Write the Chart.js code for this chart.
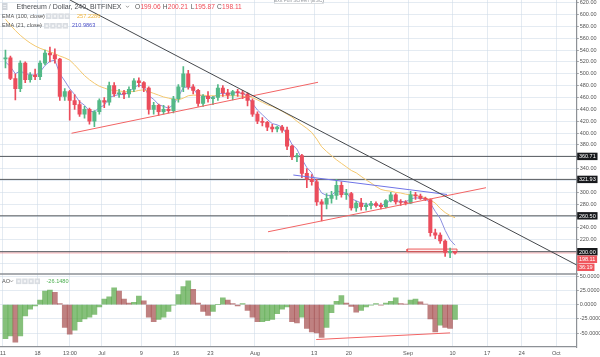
<!DOCTYPE html>
<html><head><meta charset="utf-8">
<script src="https://cdn.jsdelivr.net/npm/chart.js@4/dist/chart.umd.min.js"></script>
<style>html,body{margin:0;padding:0;background:#fff;overflow:hidden}canvas{display:block}</style>
</head><body>
<canvas id="c" width="600" height="357"></canvas>
<script>
// ---- data (one daily candle per entry, day 0 = 11 Jun) ----
const opens  = [525,527,492,475,518,490,498,495,518,535,532,525,462,470,455,448,432,440,420,436,455,452,480,466,468,466,474,488,485,476,440,447,436,440,438,458,478,500,478,472,450,462,458,460,476,468,464,470,468,466,455,432,420,418,410,407,410,405,378,360,362,332,322,318,284,280,290,295,312,296,298,274,282,276,278,281,278,276,286,296,284,283,282,296,294,290,288,232,228,218,199,199.06];
const highs  = [540,530,500,522,520,502,508,522,540,545,542,526,475,472,465,455,445,442,438,458,460,486,485,474,472,478,492,493,487,478,452,449,447,446,462,482,512,506,482,474,465,470,462,482,480,474,472,474,472,468,458,436,426,420,415,412,413,410,380,366,364,340,330,322,288,298,302,322,318,305,300,285,290,282,285,284,282,288,300,298,288,286,302,300,297,292,289,238,232,220,206,200.21];
const lows   = [510,490,456,470,485,486,490,490,515,520,518,455,455,422,440,428,425,415,411,432,443,447,462,460,458,460,470,478,470,432,432,430,432,434,434,452,470,474,466,445,445,452,448,455,462,458,456,462,458,446,428,416,412,404,402,402,401,372,355,352,325,308,312,278,252,272,282,288,292,288,270,268,270,270,272,275,272,274,284,280,278,279,281,288,288,286,226,222,214,192,190,195.87];
const closes = [527,492,475,518,490,498,495,518,535,532,525,462,470,455,448,432,440,420,436,455,452,480,466,468,466,474,488,485,476,440,447,436,440,438,458,478,500,478,472,450,462,458,460,476,468,464,470,468,466,455,432,420,418,410,407,410,405,378,360,362,332,322,318,284,280,290,295,312,296,298,274,282,276,278,281,278,276,286,296,284,283,282,296,294,290,288,232,228,218,199,199.06,198.11];
const ema100 = [592,582,573,565,558,552,547,543,540,537,534,530,527,523,515,506,497,490,484,479,476,473,472,471,470,470,470,472,473,470,467,464,461,459,457,456,459,463,464,464,464,463,463,463,463,463,463,463,462,462,460,456,452,448,445,441,437,432,427,420,414,408,401,390,377,369,362,355,349,343,337,333,327,321,316,310,305,303,302,300,299,297,296,295,293,291,287,282,273,266,261,257.23];
const ema21  = [520,512,500,505,500,499,497,503,514,521,523,500,488,475,465,453,447,437,436,443,447,460,463,465,465,469,477,481,479,463,457,448,445,442,448,461,477,478,475,464,463,461,460,466,467,466,468,468,467,462,450,439,431,423,416,414,410,397,381,373,356,342,333,313,299,295,295,303,300,299,289,286,282,280,280,279,278,281,287,286,285,284,289,291,290,289,282,268,256,236,220,210.99];
const aoValues = [-60,-55,-66,-55,-20,-8,-2,8,24,26,22,2,-40,-52,-45,-30,-25,-22,-17,-4,10,14,30,24,10,3,4,15,7,-22,-30,-26,-22,-12,-1,18,32,42,27,3,-12,-19,-12,0,12,8,2,-2,2,-10,-22,-30,-30,-28,-26,-16,-8,-4,-30,-32,-22,-42,-48,-50,-58,-40,-14,6,16,3,-3,-13,-10,-4,-1,2,-1,3,6,12,2,1,8,10,5,1,-25,-48,-36,-40,-42,-26.148];

const xTickDays   = [0,7,13.55,20,28,35,42,51,63,70,82,91,98,105,112];
const xTickLabels = ['11','18','13:00','Jul','9','16','23','Aug','13','20','Sep','10','17','24','Oct'];
const priceTicks  = [180,200,220,240,260,280,300,320,340,360,380,400,420,440,460,480,500,520,540,560,580,600,620];
const aoTicks     = [50,25,0,-25,-50];
const levels      = [360.71,321.93,260.50,200.00];
const lastPrice   = 198.11;
const countdown   = '36:19';
// drawn trend lines: [day, value]
const blackTrend = [[13.56,624.4],[116.13,177.6]];
const redTrendA  = [[13.87,399.7],[63.77,485.7]];
const redTrendB  = [[53.64,233.6],[97.77,307.9]];
const blueTrend  = [[58.77,329.3],[89.88,296.5]];
const aoTrend    = [[63.4,-61.5],[90.5,-49.8]];
const boxDays    = [81.8,91.9];
const boxPrices  = [200,204.5];
const title = 'Ethereum / Dollar, 240, BITFINEX';
const ohlc = [['O','199.06'],['H','200.21'],['L','195.87'],['C','198.11']];
const emaLegend = [['EMA (100, close)','257.2286'],['EMA (21, close)','210.9863']];
const aoLegend = ['AO','-26.1480'];

// ---- chart ----
const FONT = '"Liberation Sans", Arial, sans-serif';
Chart.defaults.font.family = FONT;
const xMin = -0.607, xMax = 116.13;
const upC = '#53b987', dnC = '#eb4d5c';
const idx = closes.map((_, i) => i);
const cCol = idx.map(i => closes[i] >= opens[i] ? upC : dnC);
const aoCol = aoValues.map((v, i) => (i === 0 || v >= aoValues[i-1]) ? 'rgba(88,168,72,0.72)' : 'rgba(160,70,70,0.68)');
const gridC = 'rgba(205,218,232,0.55)';
const axisC = '#8d9196';
const pts = a => a.map(p => ({x: p[0], y: p[1]}));
const line = (data, color, width, order, axis) => ({type:'line', data, borderColor: color, borderWidth: width, pointRadius: 0, fill: false, tension: 0, order, yAxisID: axis || 'y'});

const datasets = [
  ...levels.map(l => line([{x:xMin,y:l},{x:xMax,y:l}], '#55595e', 1, 9)),
  line([{x:xMin,y:lastPrice},{x:xMax,y:lastPrice}], 'rgba(240,80,90,0.28)', 2, 9),
  {type:'line', data:[{x:boxDays[0],y:boxPrices[0]},{x:boxDays[1],y:boxPrices[0]},{x:boxDays[1],y:boxPrices[1]},{x:boxDays[0],y:boxPrices[1]},{x:boxDays[0],y:boxPrices[0]}],
   borderColor:'rgba(235,80,80,0.9)', backgroundColor:'rgba(240,100,100,0.12)', borderWidth:1, pointRadius:0, fill:'shape', order:8, yAxisID:'y'},
  line(idx.map(i => ({x:i+0.5, y:ema100[i]})), '#f4c86e', 1, 7),
  line(idx.map(i => ({x:i+0.5, y:ema21[i]})), '#8c8fe0', 1, 7),
  {type:'bar', data: idx.map(i => ({x:i+0.5, y:[lows[i], highs[i]]})), backgroundColor: cCol, barThickness: 1, grouped:false, order:6, yAxisID:'y'},
  {type:'bar', data: idx.map(i => ({x:i+0.5, y:[opens[i], closes[i]]})), backgroundColor: cCol, barThickness: 3.4, minBarLength: 1, grouped:false, order:5, yAxisID:'y'},
  line(pts(blackTrend), '#45484c', 1, 1),
  line(pts(redTrendA), '#f26464', 1, 1),
  line(pts(redTrendB), '#f26464', 1, 1),
  line(pts(blueTrend), '#6f74e6', 1, 1),
  {type:'bar', data: idx.map(i => ({x:i+0.5, y:aoValues[i]})), backgroundColor: aoCol, barThickness: 5, grouped:false, order:4, yAxisID:'ao'},
  line(pts(aoTrend), '#f26464', 1, 1, 'ao'),
];

const hidePrice = v => v <= 180 || levels.some(l => Math.abs(l - v) < 9);

const overlay = {
  id: 'overlay',
  afterDraw(chart) {
    const ctx = chart.ctx, y = chart.scales.y, ao = chart.scales.ao;
    ctx.save();
    // pane separator
    ctx.strokeStyle = axisC; ctx.lineWidth = 1.5;
    ctx.beginPath(); ctx.moveTo(0, ao.top); ctx.lineTo(y.left + 1, ao.top); ctx.stroke();
    // price tags on the axis
    ctx.font = '5.5px ' + FONT; ctx.textBaseline = 'middle'; ctx.textAlign = 'left';
    const tag = (text, cy, bg) => {
      const w = ctx.measureText(text).width + 3.5;
      ctx.fillStyle = bg; ctx.fillRect(y.left + 0.5, cy - 3.7, w, 7.4);
      ctx.fillStyle = '#fff'; ctx.fillText(text, y.left + 2.2, cy + 0.3);
    };
    levels.forEach(l => tag(l.toFixed(2), y.getPixelForValue(l), '#17191c'));
    const baseY = y.getPixelForValue(levels[levels.length - 1]);
    const lpY = Math.max(y.getPixelForValue(lastPrice), baseY + 7.6);
    tag(lastPrice.toFixed(2), lpY, '#f0555d');
    tag(countdown, lpY + 8, '#f0555d');
    // header
    const txt = (s, x, yy, size, color) => { ctx.font = size + 'px ' + FONT; ctx.fillStyle = color; ctx.fillText(s, x, yy); return ctx.measureText(s).width; };
    const caret = (x, yy) => { ctx.strokeStyle = '#888'; ctx.lineWidth = 0.8; ctx.beginPath(); ctx.moveTo(x, yy - 1); ctx.lineTo(x + 1.5, yy + 0.6); ctx.lineTo(x + 3, yy - 1); ctx.stroke(); };
    const btns = (x, yy) => { for (let k = 0; k < 4; k++) { ctx.fillStyle = '#d9dde2'; ctx.fillRect(x + k * 6.2, yy - 2.8, 5.4, 5.6); ctx.fillStyle = '#f4f5f7'; ctx.fillRect(x + k * 6.2 + 1.6, yy - 1.1, 2.2, 2.2); } };
    ctx.fillStyle = '#d0d5db'; ctx.fillRect(2, 3, 5.5, 7);
    ctx.fillStyle = '#f5f6f8'; ctx.fillRect(3.2, 5, 3, 0.8); ctx.fillRect(3.2, 7, 3, 0.8);
    txt(title, 16.5, 6.8, 7, '#4a4d52');
    caret(126, 6.8);
    const ox = [135, 162.7, 190.7, 217];
    ohlc.forEach((p, k) => { const w = txt(p[0], ox[k], 6.8, 6.6, '#555'); txt(p[1], ox[k] + w + 0.3, 6.8, 6.6, '#ef4a55'); });
    txt(emaLegend[0][0], 2, 16.2, 5.6, '#555'); caret(40.5, 16.2); btns(46, 16.2); txt(emaLegend[0][1], 77, 16.2, 5.6, '#f2b43a');
    txt(emaLegend[1][0], 2, 25.8, 5.6, '#555'); caret(38.5, 25.8); btns(44, 25.8); txt(emaLegend[1][1], 72, 25.8, 5.6, '#4b50c8');
    txt(aoLegend[0], 2, 281.3, 5.6, '#555'); caret(10, 281.3); btns(16, 281.3); txt(aoLegend[1], 46.5, 281.3, 5.6, '#4caf50');
    // exit full screen hint
    ctx.fillStyle = '#fff'; ctx.strokeStyle = '#d2d6da'; ctx.lineWidth = 0.8;
    ctx.fillRect(274.5, -4, 49, 7.5); ctx.strokeRect(274.5, -4, 49, 7.5);
    ctx.textAlign = 'center'; txt('Exit Full Screen (ESC)', 299, 0.6, 5, '#9a9ea3');
    ctx.restore();
  }
};

new Chart(document.getElementById('c'), {
  type: 'bar',
  data: { datasets },
  options: {
    responsive: false, animation: false, devicePixelRatio: 1, events: [],
    layout: { padding: 0 },
    plugins: { legend: { display: false }, tooltip: { enabled: false } },
    scales: {
      x: {
        type: 'linear', position: 'bottom', min: xMin, max: xMax, offset: false,
        grid: { color: gridC, offset: false, drawTicks: false },
        border: { color: axisC, width: 1.2 },
        afterBuildTicks: s => { s.ticks = xTickDays.map(v => ({value: v})); },
        ticks: { callback: (v, i) => xTickLabels[i], font: { size: 5.6 }, color: '#555', padding: 3, maxRotation: 0, autoSkip: false },
        afterFit: s => { s.height = 10; s.paddingLeft = 0; s.paddingRight = 0; }
      },
      y: {
        type: 'linear', position: 'right', stack: 'panes', stackWeight: 274, min: 162.4, max: 624.45,
        grid: { color: gridC, tickLength: 2, tickColor: axisC },
        border: { color: axisC, width: 1.2 },
        afterBuildTicks: s => { s.ticks = priceTicks.map(v => ({value: v})); },
        ticks: { callback: v => hidePrice(v) ? '' : v.toFixed(2), font: { size: 5.5 }, color: '#555', padding: 1, autoSkip: false },
        afterFit: s => { s.width = 23.3; s.paddingTop = 0; s.paddingBottom = 0; }
      },
      ao: {
        type: 'linear', position: 'right', stack: 'panes', stackWeight: 73, min: -74.7, max: 54.2,
        grid: { color: gridC, tickLength: 2, tickColor: axisC },
        border: { color: axisC, width: 1.2 },
        afterBuildTicks: s => { s.ticks = aoTicks.map(v => ({value: v})); },
        ticks: { callback: v => v.toFixed(4), font: { size: 5.5 }, color: '#555', padding: 1, autoSkip: false },
        afterFit: s => { s.width = 23.3; s.paddingTop = 0; s.paddingBottom = 0; }
      }
    }
  },
  plugins: [overlay]
});
</script>
</body></html>
